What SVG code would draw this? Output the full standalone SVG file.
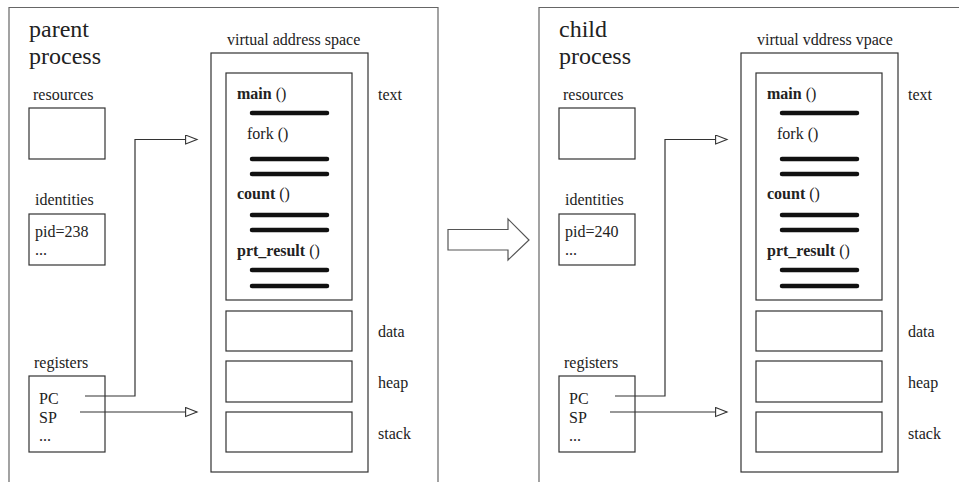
<svg xmlns="http://www.w3.org/2000/svg" width="959" height="482" viewBox="0 0 959 482" font-family="'Liberation Serif', 'Times New Roman', serif">
  <style>
    text { font-family: 'Liberation Serif', 'Times New Roman', 'DejaVu Serif', serif; fill: #222; }
    .frame { fill: none; stroke: #666; stroke-width: 1.2; }
    .box { fill: #fff; stroke: #333; stroke-width: 1.2; }
    .bar { stroke: #111; stroke-width: 4.5; stroke-linecap: round; }
    .lbl { font-size: 16px; }
    .title { font-size: 24px; }
    .fn { font-weight: bold; }
    .paren { font-weight: normal; }
    .wire { fill: none; stroke: #333; stroke-width: 1.2; }
    .big { fill: #fff; stroke: #555; stroke-width: 1.2; }
  </style>
  <defs>
    <marker id="open-tri" markerUnits="userSpaceOnUse" markerWidth="14" markerHeight="12" refX="12" refY="5" orient="auto">
      <path d="M0.6,0.6 L12,5 L0.6,9.4 Z" fill="#fff" stroke="#333" stroke-width="1.1"/>
    </marker>
    <!-- code lines inside the text segment -->
    <g id="bars-text">
      <line class="bar" x1="252" y1="113" x2="327" y2="113"/>
      <line class="bar" x1="252" y1="159" x2="327" y2="159"/>
      <line class="bar" x1="252" y1="174" x2="327" y2="174"/>
      <line class="bar" x1="252" y1="215" x2="327" y2="215"/>
      <line class="bar" x1="252" y1="230" x2="327" y2="230"/>
      <line class="bar" x1="252" y1="270" x2="327" y2="270"/>
      <line class="bar" x1="252" y1="286" x2="327" y2="286"/>
    </g>
  </defs>

  <!-- parent process -->
  <g id="parent-process">
    <path class="frame" d="M9,490 V7.5 H438 V490"/>
    <text class="title" x="29" y="36.5">parent</text>
    <text class="title" x="29" y="63.5">process</text>
  </g>
  <g id="parent-resources">
    <text class="lbl" x="33" y="100">resources</text>
    <rect class="box" x="29" y="108" width="76" height="51"/>
  </g>
  <g id="parent-identities">
    <text class="lbl" x="35" y="205">identities</text>
    <rect class="box" x="29" y="214" width="76" height="51"/>
    <text class="lbl" x="35" y="237">pid=238</text>
    <text class="lbl" x="35" y="255">...</text>
  </g>
  <g id="parent-registers">
    <text class="lbl" x="34" y="368">registers</text>
    <rect class="box" x="29" y="376" width="76" height="76"/>
    <text class="lbl" x="39" y="404">PC</text>
    <text class="lbl" x="39" y="423">SP</text>
    <text class="lbl" x="39" y="441">...</text>
  </g>
  <g id="parent-address-space">
    <text class="lbl" x="227" y="45">virtual address space</text>
    <rect class="box" x="211" y="53" width="157" height="419"/>
    <rect class="box" x="226" y="73" width="126" height="227"/>
    <text class="lbl fn" x="237" y="99">main <tspan class="paren">()</tspan></text>
    <text class="lbl" x="247" y="139">fork ()</text>
    <text class="lbl fn" x="237" y="199">count <tspan class="paren">()</tspan></text>
    <text class="lbl fn" x="237" y="256">prt_result <tspan class="paren">()</tspan></text>
    <use href="#bars-text"/>
    <rect class="box" x="226" y="311" width="126" height="40"/>
    <rect class="box" x="226" y="361" width="126" height="41"/>
    <rect class="box" x="226" y="412" width="126" height="40"/>
    <text class="lbl" x="378" y="100">text</text>
    <text class="lbl" x="378" y="337">data</text>
    <text class="lbl" x="378" y="388">heap</text>
    <text class="lbl" x="378" y="439">stack</text>
  </g>

  <!-- child process: same layout, shifted right -->
  <g id="child-process">
    <path class="frame" d="M539,490 V7.5 H970"/>
    <text class="title" x="559" y="36.5">child</text>
    <text class="title" x="559" y="63.5">process</text>
  </g>
  <g id="child-resources" transform="translate(530 0)">
    <text class="lbl" x="33" y="100">resources</text>
    <rect class="box" x="29" y="108" width="76" height="51"/>
  </g>
  <g id="child-identities" transform="translate(530 0)">
    <text class="lbl" x="35" y="205">identities</text>
    <rect class="box" x="29" y="214" width="76" height="51"/>
    <text class="lbl" x="35" y="237">pid=240</text>
    <text class="lbl" x="35" y="255">...</text>
  </g>
  <g id="child-registers" transform="translate(530 0)">
    <text class="lbl" x="34" y="368">registers</text>
    <rect class="box" x="29" y="376" width="76" height="76"/>
    <text class="lbl" x="39" y="404">PC</text>
    <text class="lbl" x="39" y="423">SP</text>
    <text class="lbl" x="39" y="441">...</text>
  </g>
  <g id="child-address-space" transform="translate(530 0)">
    <text class="lbl" x="227" y="45">virtual vddress vpace</text>
    <rect class="box" x="211" y="53" width="157" height="419"/>
    <rect class="box" x="226" y="73" width="126" height="227"/>
    <text class="lbl fn" x="237" y="99">main <tspan class="paren">()</tspan></text>
    <text class="lbl" x="247" y="139">fork ()</text>
    <text class="lbl fn" x="237" y="199">count <tspan class="paren">()</tspan></text>
    <text class="lbl fn" x="237" y="256">prt_result <tspan class="paren">()</tspan></text>
    <use href="#bars-text"/>
    <rect class="box" x="226" y="311" width="126" height="40"/>
    <rect class="box" x="226" y="361" width="126" height="41"/>
    <rect class="box" x="226" y="412" width="126" height="40"/>
    <text class="lbl" x="378" y="100">text</text>
    <text class="lbl" x="378" y="337">data</text>
    <text class="lbl" x="378" y="388">heap</text>
    <text class="lbl" x="378" y="439">stack</text>
  </g>

  <!-- connectors: register pointers and the fork arrow -->
  <g id="connectors">
    <polyline class="wire" points="85,396 135,396 135,139.5 197,139.5" marker-end="url(#open-tri)"/>
    <line class="wire" x1="80" y1="412" x2="197" y2="412" marker-end="url(#open-tri)"/>
    <polyline class="wire" points="615,396 665,396 665,139.5 727,139.5" marker-end="url(#open-tri)"/>
    <line class="wire" x1="610" y1="412" x2="727" y2="412" marker-end="url(#open-tri)"/>
    <polygon class="big" points="448,229.5 508,229.5 508,219 529,240 508,260 508,250 448,250"/>
  </g>
</svg>
